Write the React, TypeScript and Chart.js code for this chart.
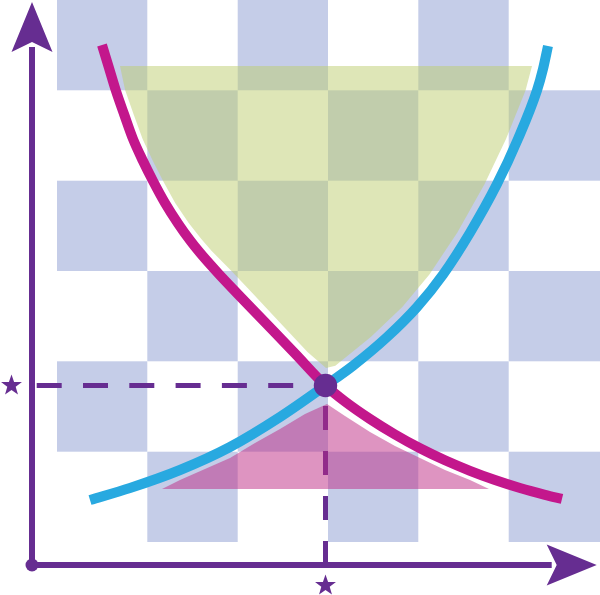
import React, { useEffect, useRef } from "react";
import { Chart, registerables } from "chart.js";

Chart.register(...registerables);

// ---- data (units: quantity on x, price on y; axis origin at 0,0) ----
const demandX = [7.0, 7.7, 8.4, 9.2, 10.1, 11.1, 12.1, 13.3, 14.6, 15.8, 16.8, 18.6, 20.5, 23.3, 26.3, 29.35, 31.3, 33.8, 36.3, 38.8, 41.3, 43.8, 46.3, 48.8, 51.3, 53.0];
const demandY = [52.0, 49.7, 47.4, 45.1, 42.6, 40.4, 38.4, 36.2, 34.15, 32.47, 31.22, 29.19, 27.18, 24.27, 21.15, 17.95, 16.35, 14.6, 13.05, 11.67, 10.47, 9.42, 8.5, 7.7, 7.02, 6.61];

const supplyX = [5.8, 9.8, 14.8, 19.8, 24.8, 29.35, 32.1, 35.5, 38.5, 41.1, 43.8, 46.5, 48.6, 50.5, 51.1, 51.6];
const supplyY = [6.5, 7.7, 9.5, 11.8, 14.8, 17.95, 19.93, 22.79, 25.79, 29.04, 33.23, 38.09, 42.61, 47.46, 49.6, 51.9];

// upper (green) surplus region outline
const upperX = [8.8, 9.31, 10.15, 11.06, 12.09, 13.11, 14.32, 15.67, 16.93, 17.97, 19.85, 21.75, 24.55, 27.55, 29.4, 30.33, 33.88, 37.03, 39.74, 42.52, 45.26, 47.4, 49.35, 50.0];
const upperY = [49.9, 47.5, 45.1, 42.6, 40.4, 38.4, 36.2, 34.2, 32.6, 31.4, 29.5, 27.5, 24.5, 21.3, 19.7, 19.93, 22.8, 25.8, 29.04, 33.23, 38.1, 42.61, 47.46, 49.9];

// lower (pink) region outline
const lowerX = [29.5, 31.3, 33.8, 36.3, 38.8, 41.3, 43.8, 45.7, 13.0, 14.8, 17.3, 19.8, 22.3, 24.8, 27.3];
const lowerY = [16.1, 14.9, 13.3, 11.9, 10.7, 9.5, 8.5, 7.6, 7.6, 8.5, 9.6, 10.7, 12.2, 13.6, 15.1];

// equilibrium
const eqQ = 29.35;
const eqP = 17.95;

// background checkerboard
const colEdges = [2.5, 11.53, 20.57, 29.6, 38.63, 47.67, 56.8];
const rowEdges = [2.3, 11.33, 20.37, 29.4, 38.43, 47.47, 56.6];
const checkerCells: [number, number][] = [
  [1, 0], [3, 0], [5, 0],
  [0, 1], [2, 1], [4, 1],
  [1, 2], [3, 2], [5, 2],
  [0, 3], [2, 3], [4, 3],
  [1, 4], [3, 4], [5, 4],
  [0, 5], [2, 5], [4, 5],
];

// axes extents
const xAxisTip = 56.47;
const yAxisTip = 56.3;
const arrowLen = 5.0;
const arrowNotch = 4.0;
const arrowHalf = 2.05;
const starOffset = -2.05;

const PURPLE = "#662d91";
const MAGENTA = "#c3178c";
const BLUE = "#28a9e0";
const CHECKER = "#c5cde8";

const pts = (xs: number[], ys: number[]) => xs.map((x, i) => ({ x, y: ys[i] }));

function starPath(ctx: CanvasRenderingContext2D, cx: number, cy: number, R: number, r: number) {
  ctx.beginPath();
  for (let i = 0; i < 10; i++) {
    const rad = i % 2 === 0 ? R : r;
    const a = -Math.PI / 2 + (i * Math.PI) / 5;
    const px = cx + rad * Math.cos(a);
    const py = cy + rad * Math.sin(a);
    if (i === 0) ctx.moveTo(px, py);
    else ctx.lineTo(px, py);
  }
  ctx.closePath();
}

const backgroundPlugin = {
  id: "checker",
  beforeDatasetsDraw(chart: any) {
    const { ctx } = chart;
    const xs = chart.scales.x;
    const ys = chart.scales.y;
    ctx.save();
    ctx.fillStyle = CHECKER;
    for (const [c, r] of checkerCells) {
      const x0 = xs.getPixelForValue(colEdges[c]);
      const x1 = xs.getPixelForValue(colEdges[c + 1]);
      const y0 = ys.getPixelForValue(rowEdges[r + 1]);
      const y1 = ys.getPixelForValue(rowEdges[r]);
      ctx.fillRect(x0, y0, x1 - x0, y1 - y0);
    }
    ctx.restore();
  },
};

const axesPlugin = {
  id: "axesArrows",
  afterDatasetsDraw(chart: any) {
    const { ctx } = chart;
    const xs = chart.scales.x;
    const ys = chart.scales.y;
    const X = (v: number) => xs.getPixelForValue(v);
    const Y = (v: number) => ys.getPixelForValue(v);
    ctx.save();
    ctx.strokeStyle = PURPLE;
    ctx.fillStyle = PURPLE;
    ctx.lineWidth = 6;
    ctx.lineCap = "butt";
    // vertical axis
    ctx.beginPath();
    ctx.moveTo(X(0), Y(0));
    ctx.lineTo(X(0), Y(yAxisTip - arrowNotch - 0.5));
    ctx.stroke();
    // horizontal axis
    ctx.beginPath();
    ctx.moveTo(X(0), Y(0));
    ctx.lineTo(X(xAxisTip - arrowNotch - 0.5), Y(0));
    ctx.stroke();
    // up arrow
    ctx.beginPath();
    ctx.moveTo(X(0), Y(yAxisTip));
    ctx.lineTo(X(arrowHalf), Y(yAxisTip - arrowLen));
    ctx.lineTo(X(0), Y(yAxisTip - arrowNotch));
    ctx.lineTo(X(-arrowHalf), Y(yAxisTip - arrowLen));
    ctx.closePath();
    ctx.fill();
    // right arrow
    ctx.beginPath();
    ctx.moveTo(X(xAxisTip), Y(0));
    ctx.lineTo(X(xAxisTip - arrowLen), Y(arrowHalf));
    ctx.lineTo(X(xAxisTip - arrowNotch), Y(0));
    ctx.lineTo(X(xAxisTip - arrowLen), Y(-arrowHalf));
    ctx.closePath();
    ctx.fill();
    // origin dot
    ctx.beginPath();
    ctx.arc(X(0), Y(0), 6.5, 0, Math.PI * 2);
    ctx.fill();
    // stars
    starPath(ctx, X(starOffset), Y(eqP), 11, 4.4);
    ctx.fill();
    starPath(ctx, X(eqQ), Y(starOffset), 11, 4.4);
    ctx.fill();
    ctx.restore();
  },
};

export default function App() {
  const ref = useRef<HTMLCanvasElement | null>(null);

  useEffect(() => {
    if (!ref.current) return;
    const chart = new Chart(ref.current, {
      type: "line",
      data: {
        datasets: [
          {
            data: [{ x: eqQ, y: eqP }],
            showLine: false,
            pointRadius: 11.7,
            pointBackgroundColor: PURPLE,
            pointBorderWidth: 0,
            order: 0,
          } as any,
          {
            data: pts(demandX, demandY),
            borderColor: MAGENTA,
            borderWidth: 10,
            borderCapStyle: "butt",
            cubicInterpolationMode: "monotone",
            pointRadius: 0,
            fill: false,
            order: 1,
          },
          {
            data: pts(supplyX, supplyY),
            borderColor: BLUE,
            borderWidth: 10,
            borderCapStyle: "butt",
            cubicInterpolationMode: "monotone",
            pointRadius: 0,
            fill: false,
            order: 2,
          },
          {
            data: pts(upperX, upperY),
            borderColor: "rgba(0,0,0,0)",
            borderWidth: 0,
            backgroundColor: "rgba(190,205,112,0.5)",
            fill: "shape",
            tension: 0,
            pointRadius: 0,
            order: 3,
          } as any,
          {
            data: pts(lowerX, lowerY),
            borderColor: "rgba(0,0,0,0)",
            borderWidth: 0,
            backgroundColor: "rgba(190,42,132,0.5)",
            fill: "shape",
            tension: 0,
            pointRadius: 0,
            order: 3,
          } as any,
          {
            data: [{ x: eqQ, y: eqP }, { x: 0, y: eqP }],
            borderColor: PURPLE,
            borderWidth: 5,
            borderDash: [25, 21.3],
            borderDashOffset: 14,
            borderCapStyle: "butt",
            pointRadius: 0,
            fill: false,
            order: 4,
          },
          {
            data: [{ x: eqQ, y: 0 }, { x: eqQ, y: eqP }],
            borderColor: PURPLE,
            borderWidth: 5,
            borderDash: [24, 21],
            borderDashOffset: 0,
            borderCapStyle: "butt",
            pointRadius: 0,
            fill: false,
            order: 4,
          },
        ],
      },
      options: {
        responsive: false,
        devicePixelRatio: 1,
        animation: false,
        events: [],
        layout: { padding: 0, autoPadding: false },
        plugins: {
          legend: { display: false },
          tooltip: { enabled: false },
        },
        scales: {
          x: { type: "linear", min: -3.2, max: 56.8, display: false },
          y: { type: "linear", min: -3.0, max: 56.5, display: false },
        },
      },
      plugins: [backgroundPlugin, axesPlugin],
    } as any);
    return () => chart.destroy();
  }, []);

  return (
    <div style={{ position: "absolute", left: 0, top: 0, width: 600, height: 595, background: "#ffffff" }}>
      <canvas ref={ref} width={600} height={595} style={{ display: "block" }} />
    </div>
  );
}
